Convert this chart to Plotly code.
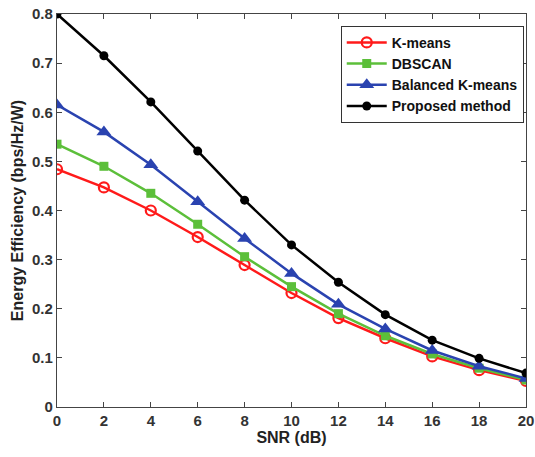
import plotly.graph_objects as go

snr = [0, 2, 4, 6, 8, 10, 12, 14, 16, 18, 20]
kmeans = [0.484, 0.447, 0.400, 0.346, 0.289, 0.232, 0.181, 0.140, 0.103, 0.075, 0.053]
dbscan = [0.535, 0.490, 0.435, 0.372, 0.306, 0.245, 0.190, 0.145, 0.108, 0.079, 0.055]
balanced = [0.615, 0.560, 0.493, 0.418, 0.343, 0.272, 0.209, 0.159, 0.115, 0.083, 0.058]
proposed = [0.800, 0.715, 0.621, 0.521, 0.421, 0.330, 0.254, 0.188, 0.136, 0.099, 0.069]

x_ticks = list(range(0, 21, 2))
y_ticks = [0, 0.1, 0.2, 0.3, 0.4, 0.5, 0.6, 0.7, 0.8]

fig = go.Figure()
fig.add_trace(go.Scatter(x=snr, y=kmeans, name="K-means", mode="lines+markers",
                         line=dict(color="#ff1a1a", width=2.5),
                         marker=dict(symbol="circle-open", size=10, color="#ff1a1a", line=dict(width=2.2))))
fig.add_trace(go.Scatter(x=snr, y=dbscan, name="DBSCAN", mode="lines+markers",
                         line=dict(color="#5cbf3a", width=2.5),
                         marker=dict(symbol="square", size=9, color="#5cbf3a")))
fig.add_trace(go.Scatter(x=snr, y=balanced, name="Balanced K-means", mode="lines+markers",
                         line=dict(color="#2a43b0", width=2.5),
                         marker=dict(symbol="triangle-up", size=13, color="#2a43b0")))
fig.add_trace(go.Scatter(x=snr, y=proposed, name="Proposed method", mode="lines+markers",
                         line=dict(color="#000000", width=2.5),
                         marker=dict(symbol="circle", size=9, color="#000000")))

axis_common = dict(showgrid=False, zeroline=False, showline=True, linecolor="#444444", linewidth=1.2,
                   mirror="ticks", ticks="inside", ticklen=5, tickcolor="#444444", automargin=False,
                   tickfont=dict(family="Liberation Sans", size=15, color="#333333", weight="bold"))

fig.update_layout(
    width=535, height=457,
    margin=dict(l=57, r=9, t=14, b=50),
    paper_bgcolor="white", plot_bgcolor="white",
    font=dict(family="Liberation Sans", color="#222222"),
    xaxis=dict(range=[0, 20], tickvals=x_ticks,
               title=dict(text="<b>SNR (dB)</b>", font=dict(size=16, color="#222222"), standoff=2),
               **axis_common),
    yaxis=dict(range=[0, 0.8], tickvals=y_ticks, ticktext=["0", "0.1", "0.2", "0.3", "0.4", "0.5", "0.6", "0.7", "0.8"],
               title=dict(text="<b>Energy Efficiency (bps/Hz/W)</b>", font=dict(size=16, color="#222222"), standoff=4),
               **axis_common),
    legend=dict(x=0.605, y=0.97, xanchor="left", yanchor="top",
                bordercolor="#333333", borderwidth=1, bgcolor="white",
                font=dict(family="Liberation Sans", size=14, color="#111111", weight="bold"),
                tracegroupgap=0, itemwidth=40),
    showlegend=True,
)

fig.write_html("out.html")
